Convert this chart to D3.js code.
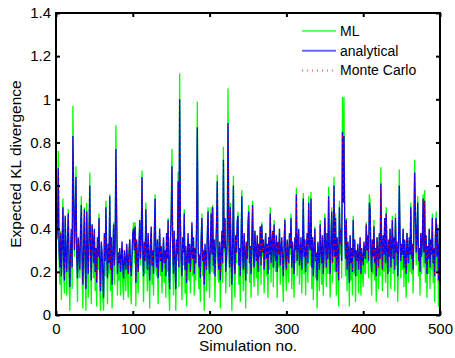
<!DOCTYPE html>
<html>
<head>
<meta charset="utf-8">
<script src="https://cdn.jsdelivr.net/npm/d3@7"></script>
<style>
body { margin: 0; background: #fff; }
text { font-family: "Liberation Sans", Arial, sans-serif; }
</style>
</head>
<body>
<div id="kl_chart"></div>
<script>
// expected KL divergence per simulation (sim no. 1..500)
var ml = [
.35,.39,.76,.26,.14,.39,.07,.31,.54,.19,.10,.45,.26,.09,.34,.49,.16,.02,.29,.38,.12,.97,.58,.27,.42,
.69,.24,.06,.35,.23,.17,.39,.55,.18,.03,.31,.50,.19,.02,.52,.24,.08,.36,.66,.25,.05,.42,.35,.17,.36,
.11,.28,.04,.36,.21,.47,.13,.02,.33,.23,.07,.02,.37,.18,.53,.28,.05,.29,.19,.56,.11,.36,.03,.24,.43,
.14,.30,.88,.44,.09,.27,.16,.28,.09,.24,.30,.13,.07,.27,.18,.11,.32,.20,.08,.26,.35,.15,.05,.24,.38,
.43,.24,.43,.04,.34,.20,.10,.30,.43,.23,.32,.67,.26,.06,.33,.19,.52,.25,.11,.37,.24,.03,.31,.38,.14,
.28,.09,.36,.56,.21,.18,.31,.05,.28,.38,.18,.30,.10,.24,.34,.15,.27,.08,.38,.20,.45,.11,.02,.33,.48,
.77,.25,.09,.39,.23,.02,.31,.25,.665,.13,1.12,.42,.20,.07,.36,.23,.49,.10,.30,.04,.24,.35,.16,.32,.10,
.26,.41,.18,.36,.09,.28,.16,.40,.99,.29,.12,.25,.06,.34,.47,.18,.23,.02,.31,.24,.11,.36,.50,.19,.08,
.27,.50,.20,.51,.19,.31,.06,.27,.42,.65,.18,.15,.29,.03,.27,.37,.15,.78,.29,.45,.10,.23,.32,1.05,.40,
.13,.52,.25,.02,.31,.645,.18,.08,.37,.24,.42,.48,.14,.29,.06,.34,.58,.20,.11,.37,.28,.03,.32,.19,.43,
.51,.15,.30,.08,.36,.53,.21,.13,.39,.28,.17,.34,.09,.32,.20,.41,.14,.43,.27,.31,.10,.28,.38,.18,.31,
.08,.36,.21,.50,.15,.30,.37,.13,.44,.24,.20,.32,.08,.33,.22,.40,.14,.29,.32,.18,.06,.31,.45,.20,.11,
.34,.22,.15,.38,.28,.47,.12,.33,.20,.08,.35,.24,.59,.18,.32,.38,.14,.27,.32,.10,.28,.565,.19,.35,.09,
.28,.34,.15,.55,.31,.23,.57,.12,.36,.07,.26,.41,.17,.26,.03,.33,.20,.11,.44,.25,.14,.36,.09,.25,.47,
.31,.13,.38,.19,.595,.23,.08,.34,.50,.15,.29,.64,.20,.47,.09,.36,.23,.04,.53,.28,.40,.17,1.01,.53,1.01,
.38,.18,.45,.11,.32,.23,.04,.37,.16,.28,.09,.46,.19,.34,.06,.28,.18,.31,.10,.25,.33,.09,.28,.19,.13,
.32,.20,.19,.43,.24,.36,.17,.56,.52,.23,.09,.35,.19,.44,.16,.28,.06,.36,.24,.12,.37,.18,.685,.29,.11,
.36,.20,.45,.15,.50,.24,.08,.34,.20,.40,.12,.30,.46,.19,.35,.11,.47,.23,.32,.06,.26,.675,.33,.17,.31,
.21,.40,.13,.34,.20,.08,.38,.24,.15,.35,.20,.52,.19,.32,.10,.39,.72,.47,.23,.35,.55,.18,.28,.09,.38,
.19,.33,.56,.22,.58,.15,.36,.08,.31,.19,.40,.12,.34,.21,.47,.15,.28,.06,.36,.48,.20,.42,.04,.31,.07
];

var analytical = [
.35,.42,.68,.30,.22,.38,.18,.33,.50,.25,.16,.46,.28,.20,.36,.47,.24,.13,.31,.40,.22,.83,.55,.30,.44,
.64,.27,.17,.36,.29,.21,.40,.51,.26,.14,.33,.49,.23,.12,.48,.30,.19,.37,.60,.28,.16,.42,.35,.24,.40,
.20,.31,.15,.36,.27,.45,.22,.11,.34,.29,.18,.08,.38,.25,.50,.30,.17,.33,.24,.55,.21,.36,.14,.28,.42,
.23,.32,.77,.45,.19,.29,.24,.31,.20,.27,.34,.22,.17,.30,.25,.21,.33,.26,.19,.29,.35,.23,.18,.28,.38,
.40,.30,.41,.15,.35,.27,.20,.32,.44,.26,.36,.64,.29,.18,.34,.25,.49,.31,.21,.38,.27,.16,.33,.41,.23,
.30,.19,.37,.54,.28,.22,.35,.17,.29,.40,.25,.32,.20,.27,.36,.24,.30,.18,.38,.26,.44,.21,.12,.34,.46,
.69,.31,.19,.39,.26,.12,.35,.28,.62,.22,1.00,.44,.25,.18,.36,.29,.47,.21,.32,.15,.27,.38,.24,.33,.20,
.29,.43,.26,.36,.19,.31,.24,.40,.87,.34,.22,.28,.17,.35,.45,.25,.30,.14,.33,.27,.21,.37,.48,.26,.19,
.32,.47,.28,.50,.23,.35,.18,.30,.41,.62,.26,.21,.34,.16,.29,.39,.24,.72,.31,.45,.20,.27,.36,.89,.40,
.22,.50,.28,.14,.33,.60,.25,.19,.37,.29,.44,.46,.23,.31,.18,.35,.55,.27,.21,.38,.30,.16,.34,.26,.42,
.48,.24,.32,.19,.36,.51,.28,.22,.39,.30,.25,.37,.20,.33,.27,.41,.23,.42,.29,.35,.21,.31,.38,.26,.33,
.19,.36,.28,.47,.24,.32,.39,.22,.42,.30,.25,.37,.20,.34,.28,.40,.23,.31,.36,.26,.18,.33,.44,.27,.21,
.35,.29,.24,.38,.31,.45,.22,.34,.27,.19,.36,.30,.56,.25,.33,.40,.23,.29,.36,.21,.31,.54,.27,.35,.20,
.30,.38,.24,.52,.33,.30,.54,.22,.36,.18,.31,.40,.25,.29,.16,.34,.27,.21,.42,.30,.24,.37,.19,.28,.45,
.33,.22,.38,.26,.55,.30,.19,.35,.48,.24,.31,.60,.27,.45,.20,.36,.29,.16,.50,.33,.40,.25,.85,.52,.83,
.38,.26,.44,.21,.34,.29,.15,.37,.24,.31,.20,.44,.27,.35,.18,.30,.25,.33,.21,.28,.36,.19,.31,.26,.23,
.34,.28,.26,.42,.30,.37,.25,.52,.49,.29,.20,.35,.27,.41,.24,.31,.18,.36,.29,.22,.38,.26,.61,.33,.21,
.37,.28,.45,.24,.47,.30,.19,.35,.27,.40,.22,.32,.44,.26,.36,.21,.45,.29,.34,.18,.31,.60,.37,.25,.33,
.28,.40,.22,.35,.27,.19,.38,.30,.24,.36,.28,.50,.26,.33,.21,.39,.66,.47,.29,.36,.52,.25,.31,.20,.38,
.27,.34,.54,.29,.53,.24,.37,.19,.32,.26,.40,.22,.35,.28,.45,.24,.31,.18,.36,.45,.27,.40,.16,.33,.15
];

var monte_carlo = [
.36,.42,.67,.30,.22,.39,.18,.33,.49,.25,.17,.46,.28,.20,.35,.47,.24,.14,.31,.40,.22,.82,.55,.31,.44,
.63,.27,.18,.36,.29,.21,.41,.51,.26,.14,.33,.48,.23,.13,.48,.30,.19,.37,.59,.28,.17,.42,.35,.24,.39,
.20,.31,.16,.36,.27,.44,.22,.12,.34,.29,.18,.09,.38,.25,.49,.30,.17,.33,.25,.54,.21,.36,.15,.28,.42,
.23,.33,.76,.45,.19,.29,.25,.31,.20,.27,.34,.22,.18,.30,.25,.21,.33,.26,.19,.30,.35,.23,.18,.28,.38,
.39,.30,.41,.16,.35,.27,.20,.32,.43,.26,.36,.63,.29,.18,.34,.26,.49,.31,.21,.38,.27,.17,.33,.40,.23,
.30,.19,.37,.53,.28,.22,.35,.18,.29,.40,.25,.32,.21,.27,.36,.24,.30,.18,.37,.26,.44,.21,.13,.34,.46,
.68,.31,.19,.39,.26,.13,.35,.28,.61,.22,.99,.44,.25,.18,.36,.29,.46,.21,.32,.16,.27,.38,.24,.33,.20,
.29,.42,.26,.36,.19,.31,.24,.40,.86,.34,.22,.28,.18,.35,.45,.25,.30,.15,.33,.27,.21,.37,.47,.26,.19,
.32,.47,.28,.49,.23,.35,.18,.30,.41,.61,.26,.21,.34,.17,.29,.39,.24,.71,.31,.45,.20,.27,.36,.88,.40,
.22,.49,.28,.15,.33,.59,.25,.19,.37,.29,.44,.45,.23,.31,.18,.35,.54,.27,.21,.38,.30,.17,.34,.26,.42,
.47,.24,.32,.19,.36,.50,.28,.22,.39,.30,.25,.37,.21,.33,.27,.41,.23,.41,.29,.35,.21,.31,.38,.26,.33,
.19,.36,.28,.46,.24,.32,.39,.22,.42,.30,.25,.37,.20,.34,.28,.40,.23,.31,.36,.26,.19,.33,.44,.27,.21,
.35,.29,.24,.38,.31,.44,.22,.34,.27,.19,.36,.30,.55,.25,.33,.40,.23,.29,.36,.21,.31,.53,.27,.35,.20,
.30,.38,.24,.51,.33,.30,.53,.22,.36,.18,.31,.40,.25,.29,.17,.34,.27,.21,.42,.30,.24,.37,.19,.28,.44,
.33,.22,.38,.26,.54,.30,.19,.35,.48,.24,.31,.59,.27,.45,.20,.36,.29,.17,.49,.33,.40,.25,.84,.52,.82,
.38,.26,.44,.21,.34,.29,.16,.37,.24,.31,.20,.43,.27,.35,.18,.30,.25,.33,.21,.28,.36,.19,.31,.26,.23,
.34,.28,.26,.42,.30,.37,.25,.51,.49,.29,.20,.35,.27,.41,.24,.31,.18,.36,.29,.22,.38,.26,.60,.33,.21,
.37,.28,.44,.24,.47,.30,.19,.35,.27,.40,.22,.32,.44,.26,.36,.21,.45,.29,.34,.18,.31,.59,.37,.25,.33,
.28,.40,.22,.35,.27,.19,.38,.30,.24,.36,.28,.49,.26,.33,.21,.39,.65,.47,.29,.36,.51,.25,.31,.20,.38,
.27,.34,.53,.29,.53,.24,.37,.19,.32,.26,.40,.22,.35,.28,.44,.24,.31,.18,.36,.45,.27,.40,.16,.33,.15
];

var series_names = ["ML", "analytical", "Monte Carlo"];
var x_ticks = [0, 100, 200, 300, 400, 500];
var y_ticks = [0, 0.2, 0.4, 0.6, 0.8, 1, 1.2, 1.4];

var svg_width = 455, svg_height = 358;
var margin = { left: 56, top: 13, right: 15, bottom: 43 };
var plot_width = svg_width - margin.left - margin.right;
var plot_height = svg_height - margin.top - margin.bottom;

var svg = d3.select("#kl_chart")
    .append("svg")
    .attr("width", svg_width)
    .attr("height", svg_height);

var g = svg.append("g")
    .attr("transform", "translate(" + margin.left + "," + margin.top + ")");

var xScale = d3.scaleLinear().domain([0, 500]).range([0, plot_width]);
var yScale = d3.scaleLinear().domain([0, 1.4]).range([plot_height, 0]);

g.append("clipPath").attr("id", "plot_clip")
    .append("rect")
    .attr("width", plot_width)
    .attr("height", plot_height);

var line = d3.line()
    .x(function(d, i) { return xScale(i + 1); })
    .y(function(d) { return yScale(d); });

var styles = [
    { data: ml, color: "#00ff00", dash: null, width: 1.3 },
    { data: analytical, color: "#0000ff", dash: null, width: 1.3 },
    { data: monte_carlo, color: "#ff0000", dash: "1,5", width: 0.9 }
];

var lines_g = g.append("g").attr("clip-path", "url(#plot_clip)");
styles.forEach(function(s) {
    lines_g.append("path")
        .datum(s.data)
        .attr("fill", "none")
        .attr("stroke", s.color)
        .attr("stroke-width", s.width)
        .attr("stroke-dasharray", s.dash)
        .attr("d", line);
});

// axes, MATLAB style: ticks inside on all four sides
var tick_len = 4;
function style_axis(sel) {
    sel.select(".domain").remove();
    sel.selectAll(".tick line").attr("stroke", "#000").attr("stroke-width", 2);
    sel.selectAll(".tick text").attr("fill", "#000").style("font-size", "15px");
}

g.append("g")
    .attr("transform", "translate(0," + plot_height + ")")
    .call(d3.axisBottom(xScale).tickValues(x_ticks).tickSizeInner(-tick_len).tickSizeOuter(0).tickPadding(8))
    .call(style_axis);

g.append("g")
    .call(d3.axisTop(xScale).tickValues(x_ticks).tickSizeInner(-tick_len).tickSizeOuter(0).tickFormat(""))
    .call(style_axis);

g.append("g")
    .call(d3.axisLeft(yScale).tickValues(y_ticks).tickSizeInner(-tick_len).tickSizeOuter(0).tickPadding(5)
        .tickFormat(function(d) { return d3.format("~g")(d); }))
    .call(style_axis);

g.append("g")
    .attr("transform", "translate(" + plot_width + ",0)")
    .call(d3.axisRight(yScale).tickValues(y_ticks).tickSizeInner(-tick_len).tickSizeOuter(0).tickFormat(""))
    .call(style_axis);

g.append("rect")
    .attr("width", plot_width)
    .attr("height", plot_height)
    .attr("fill", "none")
    .attr("stroke", "#000")
    .attr("stroke-width", 2);

// axis labels
svg.append("text")
    .attr("x", margin.left + plot_width / 2)
    .attr("y", 351)
    .attr("text-anchor", "middle")
    .style("font-size", "15.5px")
    .text("Simulation no.");

svg.append("text")
    .attr("transform", "translate(21," + (margin.top + plot_height / 2) + ") rotate(-90)")
    .attr("text-anchor", "middle")
    .style("font-size", "15.5px")
    .text("Expected KL divergence");

// legend, no box
var legend = svg.append("g").attr("transform", "translate(302,31)");
styles.forEach(function(s, i) {
    var row = legend.append("g").attr("transform", "translate(0," + (i * 19.7) + ")");
    row.append("line")
        .attr("x1", 0).attr("x2", 34)
        .attr("stroke", s.color)
        .attr("stroke-opacity", 0.6)
        .attr("stroke-width", 2)
        .attr("stroke-dasharray", s.dash ? "1,4" : null);
    row.append("text")
        .attr("x", 38)
        .attr("y", 5)
        .style("font-size", "14px")
        .text(series_names[i]);
});
</script>
</body>
</html>
